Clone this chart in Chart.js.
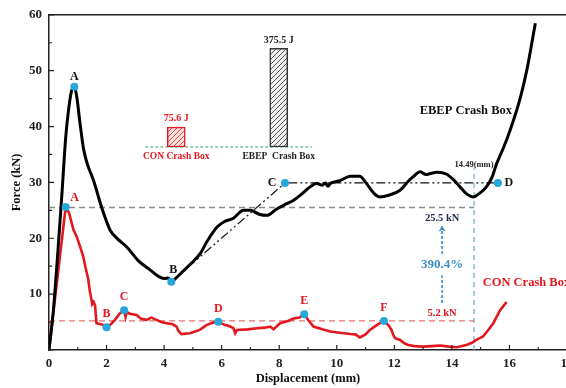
<!DOCTYPE html>
<html>
<head>
<meta charset="utf-8">
<script src="https://cdn.jsdelivr.net/npm/chart.js@4.4.0/dist/chart.umd.min.js"></script>
<style>
  body { margin: 0; background: #fff; }
  #wrap { position: relative; width: 566px; height: 388px; overflow: hidden; }
  #grafico { position: absolute; left: 0; top: 0; }
  #barras { position: absolute; left: 120px; top: 20px; }
</style>
</head>
<body>
<div id="wrap">
  <canvas id="grafico" width="580" height="388"></canvas>
  <canvas id="barras" width="220" height="150"></canvas>
</div>
<script>
const fuente = "'Liberation Serif', 'Times New Roman', serif";
const rojo = '#e3171d';
const azul = '#25a7dc';
const azulTexto = '#3d8fc4';

// curva EBEP (negra)
const ebepX = [0, 0.15, 0.3, 0.45, 0.58, 0.68, 0.78, 0.88, 0.96, 1.08, 1.2, 1.35, 1.5, 1.6, 1.8, 2.0, 2.13, 2.4, 2.71, 3.1, 3.52, 3.8, 4.0, 4.15, 4.25, 4.4, 4.6, 4.9, 5.26, 5.5, 5.84, 6.1, 6.41, 6.6, 6.75, 7.0, 7.3, 7.57, 7.9, 8.15, 8.5, 8.8, 9.07, 9.3, 9.5, 9.6, 9.7, 9.77, 10.1, 10.47, 10.8, 11.0, 11.3, 11.5, 11.8, 12.2, 12.5, 12.65, 12.9, 13.1, 13.25, 13.5, 13.8, 14.05, 14.28, 14.5, 14.75, 14.95, 15.2, 15.4, 15.55, 15.8, 16.02, 16.37, 16.6, 16.9];
const ebepY = [0, 7, 17, 28, 38, 43, 46.3, 47.1, 45.5, 40.5, 36, 33, 31, 29.5, 26, 23, 21.4, 19.8, 18.4, 16, 14.3, 13.2, 12.8, 12.9, 12.2, 12.8, 13.8, 15.3, 17.3, 19.5, 22, 23, 23.6, 24.5, 25, 25, 24.3, 24.1, 25.2, 25.9, 26.8, 28, 29.2, 29.8, 29.5, 29.9, 29.3, 29.8, 30.3, 31.1, 31.1, 30, 28, 27.4, 27.7, 28.6, 30.3, 31, 31.9, 31.4, 31.6, 31.8, 31.5, 30.5, 29.2, 28, 27.4, 28, 29.2, 31, 33.3, 36.3, 39.3, 45, 50, 58.5];

// curva CON (roja)
const conX = [0, 0.58, 0.7, 0.85, 0.97, 1.08, 1.19, 1.28, 1.36, 1.42, 1.48, 1.5, 1.55, 1.6, 1.65, 1.88, 2.0, 2.15, 2.29, 2.45, 2.61, 2.66, 2.7, 2.81, 3.04, 3.2, 3.39, 3.55, 3.74, 3.9, 4.09, 4.3, 4.43, 4.5, 4.6, 4.9, 5.24, 5.47, 5.7, 5.88, 6.1, 6.3, 6.41, 6.47, 6.53, 6.9, 7.23, 7.5, 7.69, 7.8, 8.03, 8.3, 8.5, 8.7, 8.87, 9.0, 9.19, 9.5, 9.77, 10.1, 10.47, 10.65, 10.8, 11.0, 11.15, 11.4, 11.64, 11.8, 11.9, 11.97, 12.03, 12.2, 12.35, 12.48, 12.7, 13.0, 13.3, 13.59, 13.9, 14.17, 14.5, 14.7, 14.85, 15.08, 15.25, 15.44, 15.67, 15.9];
const conY = [0, 25.6, 24.5, 21.5, 20.2, 18.5, 16.7, 14.5, 12.8, 10.5, 8.9, 8.2, 8.6, 8.0, 4.8, 4.5, 4.05, 4.6, 5.4, 6.5, 7.1, 5.9, 6.8, 6.5, 6.25, 5.6, 5.4, 5.8, 5.4, 5.0, 4.8, 4.6, 4.2, 3.4, 2.85, 3.0, 3.6, 4.46, 4.9, 5.06, 4.5, 4.2, 3.9, 3.0, 3.6, 3.7, 3.9, 4.0, 4.2, 3.7, 4.8, 5.2, 5.65, 5.8, 6.4, 5.4, 4.2, 3.7, 3.3, 3.1, 2.85, 2.8, 2.26, 2.8, 3.6, 4.5, 5.2, 4.4, 3.6, 2.6, 2.1, 1.8, 1.2, 0.9, 0.7, 0.6, 0.7, 0.8, 0.6, 0.5, 0.9, 1.3, 1.8, 2.4, 3.5, 4.8, 7.1, 8.6];

// puntos marcados
const ebepPuntosX = [0.88, 4.25, 8.2, 15.6];
const ebepPuntosY = [47.1, 12.2, 29.9, 29.9];
const ebepLetras = ['A', 'B', 'C', 'D'];
const conPuntosX = [0.58, 2.0, 2.61, 5.88, 8.87, 11.64];
const conPuntosY = [25.6, 4.05, 7.1, 5.06, 6.4, 5.2];
const conLetras = ['A', 'B', 'C', 'D', 'E', 'F'];

// tendencia B -> C -> D
const tendX = [4.25, 8.2, 15.6];
const tendY = [12.2, 29.9, 29.9];

const mediaEbep = 25.5;
const mediaCon = 5.2;
const corteX = 14.77;
const corteTop = 32.5;
const flechaX = 13.66;

// energia absorbida (inset)
const cajas = ['CON Crash Box', 'EBEP  Crash Box'];
const energias = [75.6, 375.5];

const pares = (xs, ys) => xs.map((x, i) => ({ x: x, y: ys[i] }));

const anotaciones = {
  id: 'anotaciones',
  afterDatasetsDraw(chart) {
    const ctx = chart.ctx;
    const a = chart.chartArea;
    const sx = chart.scales.x, sy = chart.scales.y;
    ctx.save();
    ctx.strokeStyle = '#222';
    ctx.lineWidth = 1.5;
    ctx.beginPath();
    ctx.moveTo(a.left, a.top); ctx.lineTo(a.right, a.top); ctx.lineTo(a.right, a.bottom);
    ctx.stroke();
    ctx.lineWidth = 1.2;
    ctx.beginPath();
    for (let v = 0; v <= 18; v++) {
      const px = sx.getPixelForValue(v);
      const l = v % 2 === 0 ? 5 : 3;
      ctx.moveTo(px, a.bottom); ctx.lineTo(px, a.bottom - l);
    }
    for (let v = 0; v <= 60; v += 5) {
      const py = sy.getPixelForValue(v);
      const l = v % 10 === 0 ? 5 : 3;
      ctx.moveTo(a.left, py); ctx.lineTo(a.left + l, py);
    }
    ctx.stroke();

    const texto = (t, x, y, color, size, align, dx, dy) => {
      ctx.fillStyle = color;
      ctx.font = 'bold ' + size + 'px ' + fuente;
      ctx.textAlign = align || 'center';
      ctx.textBaseline = 'middle';
      ctx.fillText(t, sx.getPixelForValue(x) + (dx || 0), sy.getPixelForValue(y) + (dy || 0));
    };
    const offEbep = [[0, -10], [2, -12], [-13, 0], [11, 0]];
    ebepLetras.forEach((l, i) => texto(l, ebepPuntosX[i], ebepPuntosY[i], '#111', 12, 'center', offEbep[i][0], offEbep[i][1]));
    conLetras.forEach((l, i) => texto(l, conPuntosX[i], conPuntosY[i], rojo, 12, 'center', i === 0 ? 9 : 0, i === 0 ? -9 : -13));

    texto('14.49(mm)', corteX, 33.2, '#222', 8.5);
    texto('25.5 kN', flechaX, 23.6, '#1c2b4a', 10.5);
    texto('390.4%', flechaX, 15.2, azulTexto, 13);
    texto('5.2 kN', flechaX, 6.6, rojo, 10.5);
    texto('EBEP Crash Box', 12.88, 42.9, '#111', 12.5, 'left');
    texto('CON Crash Box', 15.07, 12.0, rojo, 12.5, 'left');

    // punta de flecha
    const fx = sx.getPixelForValue(flechaX), fy = sy.getPixelForValue(22.3);
    ctx.fillStyle = azulTexto;
    ctx.beginPath();
    ctx.moveTo(fx, fy); ctx.lineTo(fx - 3.5, fy + 6); ctx.lineTo(fx, fy + 4.5); ctx.lineTo(fx + 3.5, fy + 6);
    ctx.closePath(); ctx.fill();
    ctx.restore();
  }
};

new Chart(document.getElementById('grafico'), {
  type: 'scatter',
  data: {
    datasets: [
      { data: pares(ebepPuntosX, ebepPuntosY), pointRadius: 4, backgroundColor: azul, borderWidth: 0 },
      { data: pares(conPuntosX, conPuntosY), pointRadius: 4, backgroundColor: azul, borderWidth: 0 },
      { data: pares(ebepX, ebepY), showLine: true, borderColor: '#000', borderWidth: 3, pointRadius: 0, cubicInterpolationMode: 'monotone' },
      { data: pares(conX, conY), showLine: true, borderColor: rojo, borderWidth: 2.6, pointRadius: 0, tension: 0 },
      { data: pares(tendX, tendY), showLine: true, borderColor: '#111', borderWidth: 1.2, pointRadius: 0, borderDash: [9, 3, 2, 3, 2, 3] },
      { data: [{ x: 0, y: mediaEbep }, { x: corteX, y: mediaEbep }], showLine: true, borderColor: '#8a8a8a', borderWidth: 1.4, pointRadius: 0, borderDash: [6, 4] },
      { data: [{ x: 0, y: mediaCon }, { x: corteX, y: mediaCon }], showLine: true, borderColor: '#e07070', borderWidth: 1.3, pointRadius: 0, borderDash: [6, 4] },
      { data: [{ x: corteX, y: 0 }, { x: corteX, y: corteTop }], showLine: true, borderColor: '#5aa8cc', borderWidth: 1.1, pointRadius: 0, borderDash: [5, 4] },
      { data: [{ x: flechaX, y: 8.4 }, { x: flechaX, y: 13.4 }, { x: flechaX, y: null }, { x: flechaX, y: 17.2 }, { x: flechaX, y: 21.5 }], showLine: true, spanGaps: false, borderColor: azulTexto, borderWidth: 1.6, pointRadius: 0, borderDash: [3, 2] }
    ]
  },
  options: {
    responsive: false,
    animation: false,
    devicePixelRatio: 1,
    layout: { padding: { top: 14, right: 13, left: 0, bottom: 0 } },
    plugins: { legend: { display: false }, tooltip: { enabled: false } },
    scales: {
      x: {
        type: 'linear', min: 0, max: 18,
        ticks: { stepSize: 2, color: '#222', padding: 6, maxRotation: 0, font: { family: fuente, size: 13, weight: 'bold' } },
        grid: { display: false, drawTicks: false },
        border: { display: true, color: '#222', width: 1.5 },
        title: { display: true, text: 'Displacement (mm)', color: '#111', padding: { top: 0, bottom: 2 }, font: { family: fuente, size: 12.5, weight: 'bold' } },
        afterFit: (s) => { s.height = 38; }
      },
      y: {
        min: 0, max: 60,
        ticks: { stepSize: 10, color: '#222', padding: 7, callback: (v) => v === 0 ? '' : v, font: { family: fuente, size: 13, weight: 'bold' } },
        grid: { display: false, drawTicks: false },
        border: { display: true, color: '#222', width: 1.5 },
        title: { display: true, text: 'Force (kN)', color: '#111', padding: { top: 9, bottom: 0 }, font: { family: fuente, size: 12.5, weight: 'bold' } },
        afterFit: (s) => { s.width = 49; }
      }
    }
  },
  plugins: [anotaciones]
});

// inset de barras
function trama(fondo, linea) {
  const c = document.createElement('canvas');
  c.width = 5; c.height = 5;
  const g = c.getContext('2d');
  g.fillStyle = fondo; g.fillRect(0, 0, 5, 5);
  g.strokeStyle = linea; g.lineWidth = 1;
  g.beginPath();
  g.moveTo(0, 5); g.lineTo(5, 0);
  g.moveTo(-1, 1); g.lineTo(1, -1);
  g.moveTo(4, 6); g.lineTo(6, 4);
  g.stroke();
  return g.createPattern(c, 'repeat');
}

const insetTextos = {
  id: 'insetTextos',
  beforeDatasetsDraw(chart) {
    const ctx = chart.ctx;
    const sx = chart.scales.x, sy = chart.scales.y;
    const y0 = sy.getPixelForValue(0);
    ctx.save();
    ctx.strokeStyle = '#3aa070';
    ctx.lineWidth = 1;
    ctx.setLineDash([3, 2]);
    ctx.beginPath();
    ctx.moveTo(sx.getPixelForValue(0) - 31, y0);
    ctx.lineTo(sx.getPixelForValue(1) + 33, y0);
    ctx.stroke();
    ctx.restore();
  },
  afterDatasetsDraw(chart) {
    const ctx = chart.ctx;
    const meta = chart.getDatasetMeta(0);
    ctx.save();
    ctx.font = 'bold 10px ' + fuente;
    ctx.textAlign = 'center';
    ctx.textBaseline = 'middle';
    meta.data.forEach((bar, i) => {
      ctx.fillStyle = i === 0 ? rojo : '#222';
      ctx.fillText(energias[i] + ' J', bar.x, bar.y - 8.5);
    });
    ctx.restore();
  }
};

new Chart(document.getElementById('barras'), {
  type: 'bar',
  data: {
    labels: cajas,
    datasets: [{
      data: energias,
      backgroundColor: [trama('#fbe0e0', '#e04848'), trama('#f0f0f0', '#555')],
      borderColor: [rojo, '#333'],
      borderWidth: 1.5,
      borderSkipped: false,
      barThickness: 18
    }]
  },
  options: {
    responsive: false,
    animation: false,
    devicePixelRatio: 1,
    layout: { padding: { left: 5, right: 10, top: 22, bottom: 7 } },
    plugins: { legend: { display: false }, tooltip: { enabled: false } },
    scales: {
      x: {
        grid: { display: false, drawTicks: false },
        border: { display: false },
        ticks: { padding: 4, color: (c) => c.index === 0 ? rojo : '#222', font: { family: fuente, size: 9.5, weight: 'bold' } },
        afterFit: (s) => { s.height = 16; }
      },
      y: { display: false, min: 0, max: 400 }
    }
  },
  plugins: [insetTextos]
});
</script>
</body>
</html>
